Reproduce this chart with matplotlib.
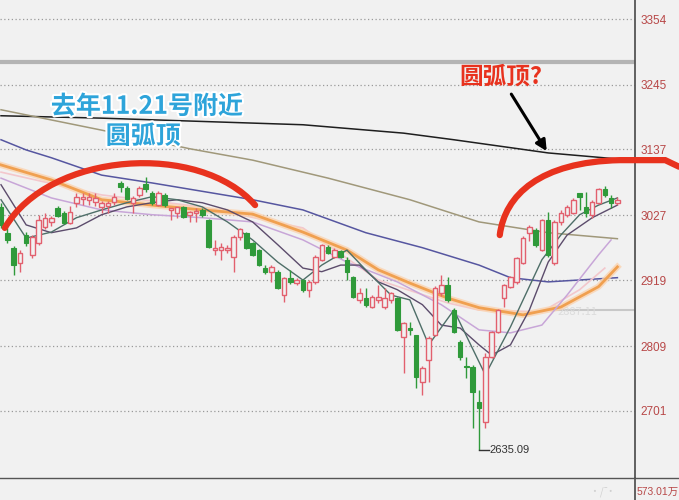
import numpy as np
import matplotlib
matplotlib.use("Agg")
import matplotlib.pyplot as plt
import matplotlib.patheffects as pe
from matplotlib.path import Path
from matplotlib.patches import PathPatch, FancyArrowPatch
from matplotlib.lines import Line2D

plt.rcParams['font.family'] = ['Noto Sans CJK SC', 'DejaVu Sans']

# daily candles (price)
opens = [3041, 2998, 2973, 2948, 2994, 2961, 2981, 3008, 3016, 3039,
         3031, 3014, 3048, 3054, 3053, 3049, 3041, 3043, 3049, 3081,
         3073, 3048, 3061, 3079, 3064, 3044, 3061, 3036, 3031, 3041,
         3028, 3031, 3036, 3019, 2969, 2969, 2969, 2958, 2991, 2998,
         2981, 2969, 2939, 2933, 2933, 2894, 2923, 2914, 2919, 2903,
         2916, 2953, 2974, 2958, 2968, 2953, 2924, 2886, 2889, 2874,
         2886, 2874, 2886, 2889, 2824, 2839, 2828, 2749, 2786, 2828,
         2898, 2911, 2869, 2816, 2776, 2774, 2716, 2683, 2791, 2833,
         2889, 2908, 2916, 2948, 2998, 3003, 2969, 3019, 2948, 3016,
         3028, 3031, 3064, 3041, 3028, 3048, 3071, 3056, 3048]
highs = [3048, 3006, 2976, 2969, 2999, 2994, 3028, 3031, 3026, 3043,
         3034, 3043, 3064, 3064, 3064, 3064, 3051, 3051, 3064, 3084,
         3076, 3059, 3076, 3091, 3068, 3068, 3064, 3039, 3041, 3043,
         3034, 3039, 3039, 3021, 2986, 2981, 2978, 2994, 3006, 2999,
         2983, 2971, 2944, 2944, 2936, 2924, 2936, 2923, 2921, 2919,
         2961, 2979, 2978, 2973, 2969, 2958, 2926, 2906, 2906, 2894,
         2911, 2906, 2899, 2891, 2849, 2849, 2828, 2776, 2826, 2909,
         2928, 2924, 2873, 2819, 2791, 2778, 2736, 2798, 2834, 2871,
         2913, 2926, 2958, 2993, 3011, 3006, 3021, 3033, 3019, 3036,
         3044, 3056, 3064, 3066, 3053, 3073, 3076, 3061, 3058]
lows = [3006, 2981, 2928, 2933, 2976, 2956, 2978, 3004, 3009, 3024,
        3013, 3013, 3041, 3044, 3044, 3043, 3031, 3031, 3044, 3066,
        3053, 3031, 3058, 3066, 3044, 3043, 3041, 3019, 3023, 3023,
        3016, 3016, 3024, 2973, 2961, 2953, 2964, 2933, 2986, 2971,
        2959, 2943, 2929, 2916, 2904, 2883, 2913, 2911, 2899, 2891,
        2913, 2951, 2963, 2956, 2956, 2919, 2889, 2881, 2874, 2873,
        2881, 2871, 2881, 2834, 2764, 2828, 2739, 2728, 2749, 2826,
        2893, 2883, 2831, 2786, 2756, 2673, 2635.09, 2673, 2789, 2831,
        2874, 2906, 2913, 2946, 2984, 2974, 2968, 2958, 2944, 3011,
        3024, 3029, 3036, 3024, 3023, 3046, 3058, 3039, 3044]
closes = [3011, 2986, 2944, 2964, 2981, 2991, 3019, 3023, 3023, 3026,
          3014, 3033, 3058, 3058, 3058, 3056, 3048, 3048, 3058, 3074,
          3054, 3056, 3073, 3071, 3048, 3064, 3044, 3039, 3041, 3024,
          3033, 3034, 3028, 2974, 2973, 2974, 2973, 2991, 3004, 2973,
          2961, 2944, 2933, 2941, 2906, 2923, 2916, 2919, 2903, 2916,
          2958, 2978, 2964, 2969, 2958, 2933, 2891, 2898, 2878, 2891,
          2891, 2889, 2898, 2836, 2848, 2836, 2758, 2773, 2823, 2906,
          2911, 2886, 2833, 2791, 2774, 2733, 2706, 2791, 2833, 2869,
          2911, 2924, 2956, 2989, 3008, 2978, 3019, 2961, 3016, 3031,
          3041, 3053, 3058, 3031, 3049, 3071, 3061, 3048, 3053]

# moving averages (candle index, price)
ma5_idx = [0, 4, 8, 12, 16, 20, 24, 28, 32, 36, 40, 44, 48, 51, 55, 58, 62, 65, 68, 72, 77, 81, 86, 89, 92, 95, 98]
ma5_val = [3053, 2989, 2999, 3023, 3036, 3048, 3058, 3053, 3041, 3016, 2986, 2949, 2919, 2944, 2969, 2936, 2894,
           2886, 2811, 2869, 2761, 2841, 2953, 2994, 3028, 3044, 3056]
ma10_idx = [0, 4, 8, 12, 16, 20, 24, 28, 32, 36, 40, 44, 48, 51, 54, 57, 60, 63, 67, 70, 73, 76, 78, 81, 84, 87, 90, 94, 98]
ma10_val = [3078, 3011, 2998, 3006, 3028, 3041, 3048, 3053, 3048, 3036, 3016, 2978, 2939, 2933, 2944, 2944, 2916,
            2903, 2878, 2844, 2839, 2811, 2794, 2811, 2869, 2949, 2994, 3023, 3044]
ma20_idx = [0, 8, 16, 24, 32, 40, 48, 55, 63, 70, 76, 81, 86, 90, 95, 97]
ma20_val = [3089, 3056, 3036, 3028, 3023, 3016, 2986, 2949, 2916, 2878, 2836, 2831, 2844, 2894, 2961, 2986]
ma30_idx = [0, 16, 32, 48, 60, 71, 76, 86, 92, 96]
ma30_val = [3099, 3061, 3041, 3006, 2919, 2881, 2869, 2866, 2903, 2939]
ma60_idx = [0, 8, 16, 24, 32, 40, 48, 55, 60, 65, 71, 76, 83, 89, 95, 98]
ma60_val = [3111, 3086, 3053, 3044, 3036, 3029, 2999, 2969, 2936, 2914, 2889, 2873, 2861, 2874, 2908, 2941]
ma120_idx = [0, 4, 8, 16, 24, 40, 48, 58, 67, 76, 81, 87, 98]
ma120_val = [3153, 3136, 3123, 3094, 3081, 3053, 3036, 2998, 2973, 2944, 2923, 2916, 2923]
ma250_idx = [0, 16, 30, 40, 52, 65, 76, 87, 98]
ma250_val = [3203, 3169, 3138, 3119, 3089, 3053, 3016, 2998, 2988]
year_idx = [0, 16, 48, 64, 72, 87, 98]
year_val = [3193, 3189, 3178, 3164, 3153, 3131, 3121]

price_ticks = [3354, 3245, 3137, 3027, 2919, 2809, 2701]
low_label = "2635.09"

# hand-drawn arcs (index, price)
left_arc = [(0.6, 3006), (7.8, 3134), (31.6, 3150), (40.4, 3044)]
right_arc = [(79.3, 2994), (80.1, 3061), (85.7, 3116), (98.4, 3119)]
right_tail = [(98.4, 3119), (105.6, 3119), (107.8, 3108)]

bg = '#f1f1f1'
up_col = '#e2606e'
down_col = '#2f9a3a'

fig = plt.figure(figsize=(6.79, 5.0), dpi=100, facecolor=bg)
ax = fig.add_axes([0, 22 / 500, 635 / 679, 478 / 500])
ax.set_facecolor(bg)
ax.set_xlim(-0.16, 100.8)
ax.set_ylim(2589, 3386)

# grid and fixed lines
for p in price_ticks:
    ax.axhline(p, color='#9a9a9a', lw=0.9, ls=(0, (1, 2)), zorder=1)
ax.axhline(3283, color='#b4b4b4', lw=3, zorder=1)
ax.plot([86.5, 100.8], [2869, 2869], color='#c8c8c8', lw=1.5, zorder=1)
ax.text(88.5, 2866, '2887.11', color='#dcdcdc', fontsize=8, va='center', zorder=1)

# moving averages
ax.plot(year_idx, year_val, color='#1e1e1e', lw=1.1, zorder=2)
ax.plot(ma250_idx, ma250_val, color='#a0987a', lw=1.1, zorder=2)
ax.plot(ma120_idx, ma120_val, color='#5656a0', lw=1.1, zorder=2)
ax.plot(ma30_idx, ma30_val, color='#f3c7cc', lw=1.2, zorder=2)
ax.plot(ma60_idx, ma60_val, color='#fbd3b0', lw=4.5, zorder=2, alpha=0.8)
ax.plot(ma60_idx, ma60_val, color='#f0a050', lw=2.0, zorder=2)
ax.plot(ma20_idx, ma20_val, color='#c8a6d8', lw=1.1, zorder=2)
ax.plot(ma10_idx, ma10_val, color='#5c4c6c', lw=1.0, zorder=2)
ax.plot(ma5_idx, ma5_val, color='#4e6e68', lw=1.0, zorder=2)

# candles
idx = np.arange(len(opens))
o = np.array(opens)
c = np.array(closes)
up = c >= o
colors = np.where(up, up_col, down_col)
ax.vlines(idx, lows, highs, colors=colors, lw=1.0, zorder=3)
body_lo = np.minimum(o, c)
body_h = np.maximum(np.abs(c - o), 1.0)
ax.bar(idx[up], body_h[up], bottom=body_lo[up], width=0.72, facecolor=bg,
       edgecolor=up_col, lw=1.0, zorder=4)
ax.bar(idx[~up], body_h[~up], bottom=body_lo[~up], width=0.72, facecolor=down_col,
       edgecolor=down_col, lw=0.8, zorder=4)

# low marker
lo_i = int(np.argmin(lows))
ax.plot([lo_i, lo_i + 1.6], [lows[lo_i], lows[lo_i]], color='#333333', lw=1, zorder=5)
ax.text(lo_i + 1.7, lows[lo_i], low_label, color='#333333', fontsize=8, va='center',
        family=['Liberation Sans', 'DejaVu Sans'], zorder=5)

# red arcs
arc_kw = dict(facecolor='none', edgecolor='#e8321e', lw=4.5, capstyle='round', zorder=6, clip_on=False)
ax.add_patch(PathPatch(Path(left_arc, [Path.MOVETO, Path.CURVE4, Path.CURVE4, Path.CURVE4]), **arc_kw))
ax.add_patch(PathPatch(Path(right_arc + right_tail[1:],
                            [Path.MOVETO, Path.CURVE4, Path.CURVE4, Path.CURVE4, Path.LINETO, Path.LINETO]),
                       **arc_kw))

# annotations
stroke = [pe.withStroke(linewidth=3, foreground='white')]
ax.text(23.2, 3208, '去年11.21号附近', color='#2ea4da', fontsize=18, fontweight='bold',
        ha='center', va='center', path_effects=stroke, zorder=7)
ax.text(22.6, 3158, '圆弧顶', color='#2ea4da', fontsize=18, fontweight='bold',
        ha='center', va='center', path_effects=stroke, zorder=7)
ax.text(79.4, 3259, '圆弧顶?', color='#e8321e', fontsize=17, fontweight='bold',
        ha='center', va='center', zorder=7)
ax.add_patch(FancyArrowPatch((80.9, 3233), (87.0, 3130), arrowstyle='-|>', mutation_scale=16,
                             color='black', lw=2.2, zorder=7))

# axis styling
for s in ['top', 'left', 'bottom']:
    ax.spines[s].set_visible(False)
ax.spines['right'].set_color('#555555')
ax.spines['right'].set_linewidth(1.3)
ax.set_xticks([])
ax.yaxis.tick_right()
ax.set_yticks(price_ticks)
ax.set_yticklabels([str(p) for p in price_ticks], color='#b84848', fontsize=8.5,
                   family=['Liberation Sans', 'DejaVu Sans'])
ax.tick_params(axis='y', length=0, pad=4)

fig.add_artist(Line2D([0, 1], [22 / 500, 22 / 500], color='#555555', lw=1.0))
fig.add_artist(Line2D([635 / 679, 635 / 679], [0, 22 / 500], color='#555555', lw=1.3))
fig.text(637 / 679, 8 / 500, '573.01万', color='#b84848', fontsize=7.5, va='center',
         family=['Liberation Sans', 'Noto Sans CJK SC'])
fig.text(590 / 679, 8 / 500, '·/ ̄·', color='#d0d0d0', fontsize=7, va='center')

fig.savefig('out.png', dpi=100, facecolor=bg)
